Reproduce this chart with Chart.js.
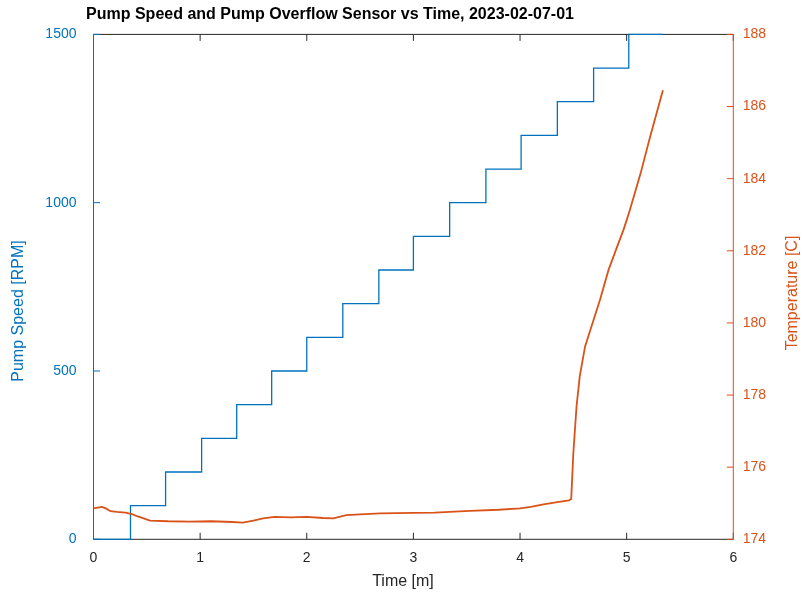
<!DOCTYPE html>
<html>
<head>
<meta charset="utf-8">
<script src="https://cdn.jsdelivr.net/npm/chart.js@4/dist/chart.umd.min.js"></script>
<style>
  html, body { margin: 0; padding: 0; background: #fff; }
</style>
</head>
<body>
<canvas id="chart" width="803" height="599"></canvas>
<script>
// pump speed steps: time [m] where each level starts, and the level [RPM]
const speedTime = [0, 0.347, 0.676, 1.014, 1.343, 1.671, 2.0, 2.338, 2.676, 3.0,
  3.34, 3.68, 4.01, 4.35, 4.69, 5.02, 5.34];
const speedRpm = [0, 100, 200, 300, 400, 500, 600, 700, 800, 900,
  1000, 1100, 1200, 1300, 1400, 1500, 1500];

// overflow sensor temperature
const tempTime = [0, 0.04, 0.08, 0.12, 0.16, 0.22, 0.30, 0.36, 0.41, 0.47,
  0.53, 0.7, 0.9, 1.1, 1.3, 1.40, 1.5, 1.59, 1.7, 1.85,
  2.0, 2.15, 2.25, 2.37, 2.5, 2.69, 3.0, 3.2, 3.53, 3.8,
  4.0, 4.1, 4.22, 4.35, 4.46, 4.48, 4.50, 4.53, 4.56, 4.61,
  4.69, 4.75, 4.83, 4.91, 4.97, 5.00, 5.03, 5.13, 5.22, 5.34];
const tempC = [174.86, 174.88, 174.90, 174.85, 174.78, 174.76, 174.74, 174.70, 174.64, 174.58,
  174.52, 174.50, 174.49, 174.50, 174.48, 174.46, 174.52, 174.58, 174.62, 174.61,
  174.62, 174.59, 174.58, 174.67, 174.69, 174.72, 174.73, 174.74, 174.79, 174.82,
  174.86, 174.90, 174.97, 175.03, 175.08, 175.12, 176.4, 177.69, 178.52, 179.35,
  180.09, 180.64, 181.47, 182.11, 182.58, 182.85, 183.13, 184.14, 185.16, 186.45];

const xTicks = [0, 1, 2, 3, 4, 5, 6];
const speedTicks = [0, 500, 1000, 1500];
const tempTicks = [174, 176, 178, 180, 182, 184, 186, 188];

const titleText = 'Pump Speed and Pump Overflow Sensor vs Time, 2023-02-07-01';
const xLabel = 'Time [m]';
const speedLabel = 'Pump Speed [RPM]';
const tempLabel = 'Temperature [C]';

const BLUE = '#0072BD';
const ORANGE = '#D95319';
const GRAY = '#262626';
const FONT = "'Liberation Sans', Arial, sans-serif";

Chart.defaults.font.family = FONT;
Chart.defaults.font.size = 14;

const toPoints = (xs, ys) => xs.map((x, i) => ({ x: x, y: ys[i] }));
const plain = (v) => String(v);

function line(ctx, x1, y1, x2, y2) {
  ctx.beginPath();
  ctx.moveTo(x1, y1);
  ctx.lineTo(x2, y2);
  ctx.stroke();
}

// axes box with inward ticks (matlab style), drawn under the data
const frame = {
  id: 'frame',
  beforeDatasetsDraw(chart) {
    const { ctx, chartArea: a, scales } = chart;
    const tl = 6.5;
    ctx.save();
    ctx.lineWidth = 1;

    ctx.strokeStyle = GRAY;
    line(ctx, a.left, a.bottom, a.right, a.bottom);
    line(ctx, a.left, a.top, a.right, a.top);
    for (const v of xTicks) {
      const px = scales.x.getPixelForValue(v);
      line(ctx, px, a.bottom, px, a.bottom - tl);
      line(ctx, px, a.top, px, a.top + tl);
    }

    ctx.strokeStyle = BLUE;
    line(ctx, a.left, a.top, a.left, a.bottom);
    for (const v of speedTicks) {
      const py = scales.y.getPixelForValue(v);
      line(ctx, a.left, py, a.left + tl, py);
    }

    ctx.strokeStyle = ORANGE;
    line(ctx, a.right, a.top, a.right, a.bottom);
    for (const v of tempTicks) {
      const py = scales.y1.getPixelForValue(v);
      line(ctx, a.right, py, a.right - tl, py);
    }
    ctx.restore();
  },
  afterDraw(chart) {
    const ctx = chart.ctx;
    ctx.save();
    ctx.textAlign = 'center';
    ctx.textBaseline = 'middle';

    ctx.fillStyle = '#000';
    ctx.font = 'bold 16px ' + FONT;
    ctx.fillText(titleText, 330, 15);

    ctx.font = '16px ' + FONT;
    ctx.fillStyle = GRAY;
    ctx.fillText(xLabel, 403, 582);

    ctx.fillStyle = BLUE;
    ctx.save();
    ctx.translate(19, 311);
    ctx.rotate(-Math.PI / 2);
    ctx.fillText(speedLabel, 0, 0);
    ctx.restore();

    ctx.fillStyle = ORANGE;
    ctx.save();
    ctx.translate(793, 293);
    ctx.rotate(-Math.PI / 2);
    ctx.fillText(tempLabel, 0, 0);
    ctx.restore();

    ctx.restore();
  },
};

new Chart(document.getElementById('chart'), {
  type: 'line',
  data: {
    datasets: [
      {
        label: 'Temperature',
        data: toPoints(tempTime, tempC),
        yAxisID: 'y1',
        borderColor: ORANGE,
        borderWidth: 1.8,
        pointRadius: 0,
        tension: 0,
        order: 0,
        clip: 3,
      },
      {
        label: 'Pump Speed',
        data: toPoints(speedTime, speedRpm),
        yAxisID: 'y',
        borderColor: BLUE,
        borderWidth: 1.3,
        pointRadius: 0,
        stepped: true,
        order: 1,
        clip: 3,
      },
    ],
  },
  options: {
    responsive: false,
    animation: false,
    devicePixelRatio: 1,
    layout: {
      padding: { top: 34.4, left: 0, right: 0, bottom: 0 },
    },
    plugins: {
      legend: { display: false },
      tooltip: { enabled: false },
    },
    scales: {
      x: {
        type: 'linear',
        min: 0,
        max: 6,
        afterFit: (s) => { s.height = 59.7; },
        ticks: { stepSize: 1, color: GRAY, padding: 10, callback: plain },
        grid: { display: false, drawTicks: false },
        border: { display: false },
      },
      y: {
        position: 'left',
        min: 0,
        max: 1500,
        afterFit: (s) => { s.width = 93.5; },
        ticks: { stepSize: 500, color: BLUE, padding: 17, callback: plain },
        grid: { display: false, drawTicks: false },
        border: { display: false },
      },
      y1: {
        position: 'right',
        min: 174,
        max: 188,
        afterFit: (s) => { s.width = 69.7; },
        ticks: { stepSize: 2, color: ORANGE, padding: 9.5, callback: plain },
        grid: { display: false, drawTicks: false },
        border: { display: false },
      },
    },
  },
  plugins: [frame],
});
</script>
</body>
</html>
